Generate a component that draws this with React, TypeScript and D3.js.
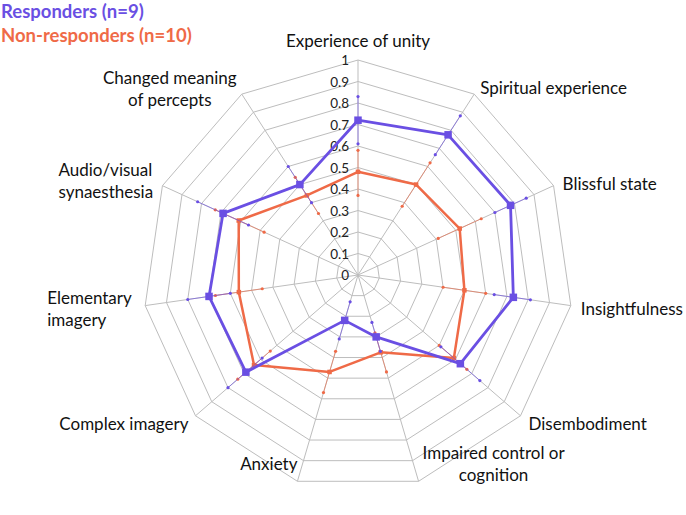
import React from "react";
import * as d3 from "d3";

const categories = [
  "Experience of unity",
  "Spiritual experience",
  "Blissful state",
  "Insightfulness",
  "Disembodiment",
  "Impaired control or cognition",
  "Anxiety",
  "Complex imagery",
  "Elementary imagery",
  "Audio/visual synaesthesia",
  "Changed meaning of percepts",
];

const responders = [0.72, 0.775, 0.78, 0.73, 0.63, 0.3, 0.22, 0.69, 0.7, 0.69, 0.5];
const respondersLow = [0.61, 0.665, 0.7, 0.64, 0.51, 0.23, 0.13, 0.59, 0.6, 0.56, 0.4];
const respondersHigh = [0.83, 0.88, 0.86, 0.81, 0.75, 0.37, 0.31, 0.8, 0.8, 0.82, 0.6];

const nonResponders = [0.48, 0.5, 0.52, 0.5, 0.59, 0.375, 0.47, 0.64, 0.56, 0.61, 0.44];
const nonRespondersLow = [0.37, 0.38, 0.41, 0.4, 0.5, 0.28, 0.37, 0.54, 0.45, 0.48, 0.34];
const nonRespondersHigh = [0.58, 0.62, 0.63, 0.6, 0.67, 0.47, 0.57, 0.74, 0.67, 0.73, 0.54];

const tickValues = [0, 0.1, 0.2, 0.3, 0.4, 0.5, 0.6, 0.7, 0.8, 0.9, 1];
const tickLabels = ["0", "0.1", "0.2", "0.3", "0.4", "0.5", "0.6", "0.7", "0.8", "0.9", "1"];

// label layout relative to the end of each spoke
const labelLayout = [
  { lines: ["Experience of unity"], anchor: "middle", dx: 0, dy: -13 },
  { lines: ["Spiritual experience"], anchor: "start", dx: 6, dy: 0 },
  { lines: ["Blissful state"], anchor: "start", dx: 9, dy: 4 },
  { lines: ["Insightfulness"], anchor: "start", dx: 10, dy: 9 },
  { lines: ["Disembodiment"], anchor: "start", dx: 8, dy: 14 },
  { lines: ["Impaired control or", "cognition"], anchor: "middle", dx: 75, dy: -22 },
  { lines: ["Anxiety"], anchor: "end", dx: 0, dy: -11 },
  { lines: ["Complex imagery"], anchor: "end", dx: -7, dy: 14 },
  { lines: ["Elementary", "imagery"], anchor: "start", dx: -98, dy: -2 },
  { lines: ["Audio/visual", "synaesthesia"], anchor: "start", dx: -104, dy: -10 },
  { lines: ["Changed meaning", "of percepts"], anchor: "middle", dx: -72, dy: -10 },
];

const width = 686;
const height = 515;
const cx = 358;
const cy = 275;
const R = 215;

const PURPLE = "#6a4fe3";
const ORANGE = "#ef6a47";
const FONT = "Lato, 'Open Sans', sans-serif";

const App: React.FC = () => {
  const r = d3.scaleLinear().domain([0, 1]).range([0, R]);
  const angle = d3
    .scaleLinear()
    .domain([0, categories.length])
    .range([0, 2 * Math.PI]);

  const px = (i: number, v: number) => cx + r(v) * Math.sin(angle(i));
  const py = (i: number, v: number) => cy - r(v) * Math.cos(angle(i));

  const idx = d3.range(categories.length);

  const ring = (v: number) =>
    d3
      .lineRadial<number>()
      .angle((i) => angle(i))
      .radius(() => r(v))
      .curve(d3.curveLinearClosed)(idx) || "";

  const seriesPath = (vals: number[]) =>
    d3
      .lineRadial<number>()
      .angle((i) => angle(i))
      .radius((i) => r(vals[i]))
      .curve(d3.curveLinearClosed)(idx) || "";

  const series = [
    { vals: nonResponders, lo: nonRespondersLow, hi: nonRespondersHigh, color: ORANGE, lw: 2.5, m: 4.5 },
    { vals: responders, lo: respondersLow, hi: respondersHigh, color: PURPLE, lw: 2.8, m: 7.5 },
  ];

  return (
    <div style={{ position: "absolute", left: 0, top: 0 }}>
      <svg width={width} height={height} style={{ display: "block", background: "#fff" }}>
        {/* grid rings */}
        <g transform={`translate(${cx},${cy})`}>
          {tickValues.slice(1).map((t) => (
            <path key={t} d={ring(t)} fill="none" stroke="#bdbdbd" strokeWidth={1} />
          ))}
        </g>
        {/* spokes */}
        {idx.map((i) => (
          <line
            key={i}
            x1={cx}
            y1={cy}
            x2={px(i, 1)}
            y2={py(i, 1)}
            stroke="#bdbdbd"
            strokeWidth={1}
          />
        ))}
        {/* tick labels */}
        {tickValues.map((t, k) => (
          <text
            key={t}
            x={cx - 9}
            y={py(0, t) + 5}
            textAnchor="end"
            fontFamily={FONT}
            fontSize={13.5}
            fill="#222"
          >
            {tickLabels[k]}
          </text>
        ))}
        {/* series */}
        {series.map((s, si) => (
          <g key={si}>
            {idx.map((i) => (
              <g key={i}>
                <line
                  x1={px(i, s.lo[i])}
                  y1={py(i, s.lo[i])}
                  x2={px(i, s.hi[i])}
                  y2={py(i, s.hi[i])}
                  stroke={s.color}
                  strokeOpacity={0.6}
                  strokeWidth={1}
                />
                <circle cx={px(i, s.lo[i])} cy={py(i, s.lo[i])} r={1.6} fill={s.color} />
                <circle cx={px(i, s.hi[i])} cy={py(i, s.hi[i])} r={1.6} fill={s.color} />
              </g>
            ))}
            <path
              transform={`translate(${cx},${cy})`}
              d={seriesPath(s.vals)}
              fill="none"
              stroke={s.color}
              strokeWidth={s.lw}
              strokeLinejoin="round"
            />
            {idx.map((i) => (
              <rect
                key={i}
                x={px(i, s.vals[i]) - s.m / 2}
                y={py(i, s.vals[i]) - s.m / 2}
                width={s.m}
                height={s.m}
                fill={s.color}
              />
            ))}
          </g>
        ))}
        {/* category labels */}
        {labelLayout.map((l, i) => (
          <text
            key={i}
            x={px(i, 1) + l.dx}
            y={py(i, 1) + l.dy}
            textAnchor={l.anchor as any}
            fontFamily={FONT}
            fontSize={17}
            fill="#111"
          >
            {l.lines.map((ln, j) => (
              <tspan key={j} x={px(i, 1) + l.dx} dy={j === 0 ? 0 : 22}>
                {ln}
              </tspan>
            ))}
          </text>
        ))}
        {/* legend */}
        <text x={1} y={18} fontFamily={FONT} fontWeight="bold" fontSize={18.5} fill={PURPLE}>
          Responders (n=9)
        </text>
        <text x={1} y={42} fontFamily={FONT} fontWeight="bold" fontSize={18.5} fill={ORANGE}>
          Non-responders (n=10)
        </text>
      </svg>
    </div>
  );
};

export default App;
